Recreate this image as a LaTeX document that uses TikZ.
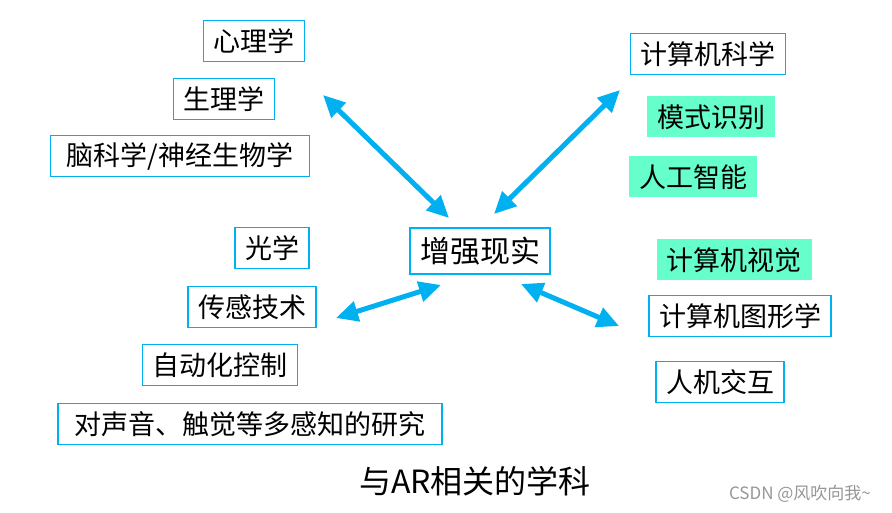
\documentclass[tikz,border=0pt]{standalone}
\usepackage{fontspec}
\setmainfont{Noto Sans CJK SC}
\usepackage{tikz}
\usetikzlibrary{positioning, arrows.meta}
\definecolor{edgeblue}{RGB}{0, 176, 240}
\definecolor{aifill}{RGB}{102, 255, 204}
\definecolor{markgray}{RGB}{150, 150, 150}

\tikzset{
  field/.style={draw=edgeblue, line width=1.2pt, fill=white, inner xsep=10pt, inner ysep=0pt,
    minimum height=41pt, font=\fontsize{27}{31}\selectfont},
  aifield/.style={field, draw=none, fill=aifill},
  link/.style={edgeblue, line width=5pt, {Triangle[length=22pt, width=20pt]}-{Triangle[length=22pt, width=20pt]}}
}

\begin{document}
\begin{tikzpicture}[x=1pt, y=-1pt]
  \useasboundingbox (0,0) rectangle (892,513);

  % Centre
  \node[field, minimum height=46pt, font=\fontsize{30}{34}\selectfont] (ar) at (480, 251) {增强现实};

  % Left group, upper
  \node[field] (psy) at (254, 41) {心理学};
  \node[field] (phys) at (224, 99) {生理学};
  \node[field, minimum width=259pt] (brain) at (180, 156) {脑科学/神经生物学};

  % Left group, lower
  \node[field] (optics) at (272, 248) {光学};
  \node[field] (sensor) at (252, 307) {传感技术};
  \node[field] (auto) at (220, 365) {自动化控制};
  \node[field, minimum width=384pt] (multi) at (250, 424) {对声音、触觉等多感知的研究};

  % Right group, upper
  \node[field] (cs) at (708, 54) {计算机科学};
  \node[aifield] (pattern) at (711, 117) {模式识别};
  \node[aifield] (ai) at (693, 177) {人工智能};

  % Right group, lower
  \node[aifield] (vision) at (734, 260) {计算机视觉};
  \node[field] (graphics) at (740, 316) {计算机图形学};
  \node[field] (hci) at (720, 382) {人机交互};

  % Arrows
  \coordinate (ulA) at (323, 95);  \coordinate (ulB) at (449, 218);
  \coordinate (urA) at (620, 90);  \coordinate (urB) at (494, 214);
  \coordinate (llA) at (336, 318); \coordinate (llB) at (441, 285);
  \coordinate (lrA) at (521, 284); \coordinate (lrB) at (619, 326);
  \draw[link] (ulA) -- (ulB);
  \draw[link] (urA) -- (urB);
  \draw[link] (llA) -- (llB);
  \draw[link] (lrA) -- (lrB);

  % Caption and mark
  \node[font=\fontsize{32}{36}\selectfont] (caption) at (475, 481) {与AR相关的学科};
  \node[markgray, font=\fontsize{17}{19}\selectfont] (mark) at (800, 494) {CSDN @风吹向我\textasciitilde};
\end{tikzpicture}
\end{document}
